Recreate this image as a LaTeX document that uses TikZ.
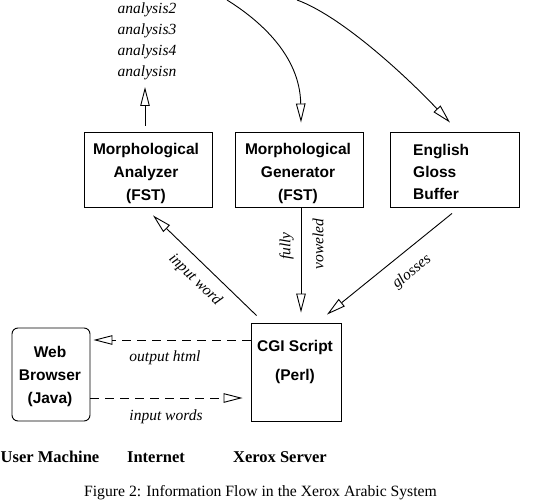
\documentclass[tikz,border=0pt]{standalone}
\usepackage{fontspec}
\setmainfont{Liberation Serif}
\newfontfamily\hsans{Liberation Sans}
\usetikzlibrary{arrows.meta}
\begin{document}
\begin{tikzpicture}[x=1pt,y=-1pt,
  box/.style={draw, line width=0.9pt, inner sep=0pt},
  btext/.style={font=\hsans\bfseries\fontsize{15.5}{23}\selectfont, align=center, inner sep=0pt},
  itext/.style={font=\itshape\fontsize{15.5}{21}\selectfont, inner sep=0pt, align=center},
  ltext/.style={font=\bfseries\fontsize{16.5}{20}\selectfont, inner sep=0pt},
  arr/.style={line width=0.9pt, -{Triangle[open, length=19pt, width=9.5pt]}},
  darr/.style={arr, dash pattern=on 9pt off 6pt},
]
\useasboundingbox (0,0) rectangle (543,500);
\clip (0,0) rectangle (543,500);

% boxes
\node[box, minimum width=128pt, minimum height=75pt] (ana) at (148,169.5) {};
\node[btext] (anat) at (146,173) {Morphological\\Analyzer\\(FST)};
\node[box, minimum width=128pt, minimum height=75pt] (gen) at (299,169.5) {};
\node[btext] (gent) at (298,173) {Morphological\\Generator\\(FST)};
\node[box, minimum width=129pt, minimum height=75pt] (egb) at (454.5,169.5) {};
\node[btext, align=left, anchor=west, font=\hsans\bfseries\fontsize{15.5}{22}\selectfont] (egbt) at (413,172) {English\\Gloss\\Buffer};
\node[box, minimum width=90pt, minimum height=98pt] (cgi) at (296,372) {};
\node[btext, font=\hsans\bfseries\fontsize{15.5}{29}\selectfont] (cgit) at (295,362) {CGI Script\\(Perl)};
\node[box, rounded corners=6pt, minimum width=78pt, minimum height=93pt] (wb) at (51,374.5) {};
\node[btext] (wbt) at (50,376) {Web\\Browser\\(Java)};

% analyses list
\node[itext] (alist) at (147,41) {analysis2\\analysis3\\analysis4\\analysisn};
\coordinate (atip) at (145,87);
\draw[arr] ([xshift=-3pt,yshift=6pt]ana.north) -- (atip);

% curves from above
\coordinate (c1s) at (227,0);
\coordinate (c2s) at (297,0);
\draw[arr] (c1s) .. controls (259,20) and (300,55) .. ([xshift=2pt,yshift=9pt]gen.north);
\draw[arr] (c2s) .. controls (341,16) and (405,75) .. ([xshift=-4.5pt,yshift=9pt]egb.north);

% connectors to/from CGI
\draw[arr] ([xshift=6pt,yshift=7pt]cgi.north west) -- ([xshift=5pt,yshift=-8pt]ana.south);
\node[itext, rotate=-44] (linput) at (195,280) {input word};
\draw[arr] ([xshift=2pt]gen.south) -- ([xshift=5pt,yshift=10pt]cgi.north);
\node[itext, rotate=90] (lfully) at (286.5,246) {fully};
\node[itext, rotate=90] (lvow) at (318,244) {voweled};
\draw[arr] ([xshift=-2.5pt,yshift=-6pt]egb.south) -- ([xshift=31pt,yshift=8pt]cgi.north);
\node[itext, rotate=39] (lgloss) at (412,272) {glosses};

% dashed internet connectors
\draw[darr] ([yshift=32pt]cgi.west) -- ([xshift=3pt,yshift=34.5pt]wb.east);
\node[itext] (lout) at (165,358) {output html};
\draw[darr] ([yshift=-23.5pt]wb.east) -- ([xshift=-8pt,yshift=-26pt]cgi.west);
\node[itext] (lin2) at (166,417) {input words};

% bottom labels
\node[ltext] (um) at (50,457) {User Machine};
\node[ltext] (inet) at (156,457) {Internet};
\node[ltext] (xs) at (280,457) {Xerox Server};
\node[inner sep=0pt, font=\fontsize{15.7}{19}\selectfont] (cap) at (260.5,493) {Figure 2: Information Flow in the Xerox Arabic System};
\end{tikzpicture}
\end{document}
